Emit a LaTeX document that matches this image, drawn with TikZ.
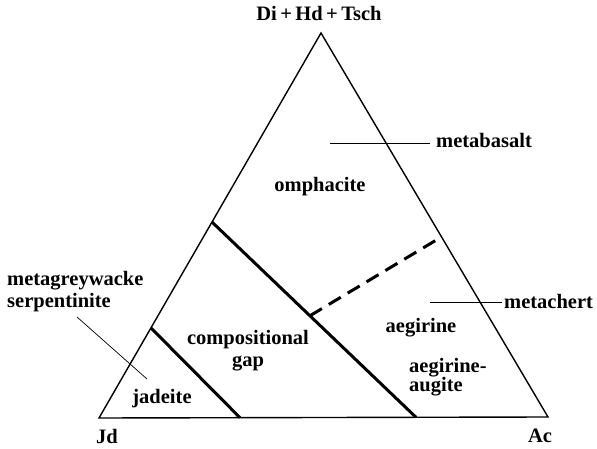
\documentclass[tikz,border=0pt]{standalone}
\usepackage{fontspec}
\setmainfont{Liberation Serif}
\usetikzlibrary{calc}
\begin{document}
\begin{tikzpicture}[x=1pt,y=-1pt]
      \tikzset{edge/.style={line width=1.4pt, line join=miter},
               gapline/.style={line width=3pt},
               leader/.style={line width=0.7pt},
               field/.style={font=\fontsize{20.5}{22}\selectfont\bfseries, inner sep=0pt, anchor=base}}
      \useasboundingbox (0,0) rectangle (597,449);
%% Corners
      \coordinate (top) at (321,33);
      \coordinate (jd) at (99,418);
      \coordinate (ac) at (548,417);
%% Field boundaries
	% points on the edges
      \coordinate (gapL) at ($(jd)!0.234!(top)$);
      \coordinate (gapB) at ($(jd)!0.314!(ac)$);
      \coordinate (omL) at ($(jd)!0.509!(top)$);
      \coordinate (omB) at ($(jd)!0.706!(ac)$);
      \coordinate (aeR) at ($(ac)!0.469!(top)$);
      \coordinate (aeL) at ($(omL)!0.48!(omB)$);
%Edges
      \draw[edge] (jd) -- (top) -- (ac) -- cycle;
      \draw[gapline] (gapL) -- (gapB);
      \draw[gapline] (omL) -- (omB);
      \draw[gapline, dash pattern=on 14pt off 8pt] (aeL) -- (aeR);
%Labels
	% corners (multi-line nodes sit on their last baseline)
      \node[field] (topl) at (319,21) {Di\,+\,Hd\,+\,Tsch};
      \node[field] (jdl) at (107,443) {Jd};
      \node[field] (acl) at (540,442) {Ac};
	% fields
      \node[field] (omph) at (320,192) {omphacite};
      \node[field, align=center] (gap) at (248,366) {compositional\\gap};
      \node[field] (jad) at (162,403) {jadeite};
      \node[field] (aeg) at (421,332) {aegirine};
      \node[field, align=left, anchor=base west] (aegaug) at (409,391) {aegirine-\\[-3pt]augite};
	% rock types
      \node[field, anchor=base west] (basalt) at (436,148) {metabasalt};
      \node[field, anchor=base west] (chert) at (504,308) {metachert};
      \node[field, align=left, anchor=base west] (rock) at (7,307) {metagreywacke\\serpentinite};
      \coordinate (basaltin) at (330,143);
      \coordinate (chertin) at (430,302);
      \coordinate (rockin) at (147,379);
      \coordinate (rockout) at (77,317);
      \draw[leader] (basaltin) -- ++(100,0);
      \draw[leader] (chertin) -- ++(72,0);
      \draw[leader] (rockout) -- (rockin);
\end{tikzpicture}
\end{document}
